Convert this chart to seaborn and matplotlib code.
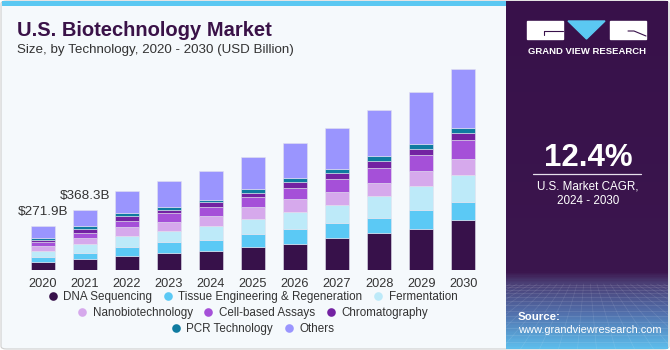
import numpy as np
import pandas as pd
import matplotlib
matplotlib.use("Agg")
import matplotlib.pyplot as plt
import seaborn as sns
from matplotlib.patches import FancyBboxPatch, Rectangle, Polygon
from matplotlib.lines import Line2D
from matplotlib.colors import LinearSegmentedColormap

# data (USD billion)
years = [2020, 2021, 2022, 2023, 2024, 2025, 2026, 2027, 2028, 2029, 2030]
segments = ["DNA Sequencing", "Tissue Engineering & Regeneration", "Fermentation",
            "Nanobiotechnology", "Cell-based Assays", "Chromatography",
            "PCR Technology", "Others"]
dna_sequencing = [49, 65, 85.7, 106, 118, 140.8, 161, 194, 224.6, 252.8, 304.2]
tissue_engineering = [28, 41, 57, 63, 67.3, 81.4, 90, 93.6, 95.5, 114.4, 114.4]
fermentation = [37, 51, 63, 71.6, 81.4, 90, 102, 108.3, 132.8, 146.9, 161]
nanobiotech = [33, 41, 55, 55, 63.6, 71.6, 79.6, 81.4, 81.4, 91.8, 102.2]
cell_based = [24.5, 30.6, 41, 50.8, 57, 64.9, 71, 81.4, 91.8, 97.9, 114.4]
chromatography = [14, 24.5, 28.8, 22.6, 26.3, 24.5, 33, 33, 39.2, 38.6, 42.8]
pcr = [10.5, 14, 20, 18.4, 16.5, 20.8, 24.5, 28.2, 30.6, 26.9, 28.8]
others = [75.9, 101.2, 134.6, 155, 177.5, 195.8, 217.9, 247.2, 283.4, 321.9, 362.9]
labeled_years = [2020, 2021]

colors = ["#37114A", "#5BC9F5", "#BDEAF9", "#D6A9EC", "#A550D8", "#7322A2",
          "#0F7BA0", "#9A95FE"]

series = [dna_sequencing, tissue_engineering, fermentation, nanobiotech,
          cell_based, chromatography, pcr, others]
df = pd.concat([pd.DataFrame({"year": years, "value": v, "segment": s})
                for s, v in zip(segments, series)], ignore_index=True)
totals = df.groupby("year")["value"].sum()

sns.set_style("white")
plt.rcParams["font.family"] = ["Liberation Sans", "DejaVu Sans"]

W, H = 670, 350
def fx(px):
    return px / W
def fy(py):
    return 1 - py / H

fig = plt.figure(figsize=(6.7, 3.5), dpi=100, facecolor="white")

# card background + top stripe (kept below the axes)
fig.patches.append(FancyBboxPatch((fx(1), fy(349)), fx(668), 348 / H,
                                  boxstyle="round,pad=0,rounding_size=0.008",
                                  transform=fig.transFigure, facecolor="#F5F9FC",
                                  edgecolor="#CFCFCF", lw=0.8, zorder=-3))
fig.patches.append(Rectangle((fx(2), fy(5.5)), fx(506 - 2), 4.5 / H,
                             transform=fig.transFigure, facecolor="#5BC8F2",
                             edgecolor="none", zorder=-2))

# bars
ax = fig.add_axes([fx(10), fy(270), fx(496 - 10), (270 - 60) / H])
ax.set_facecolor("none")
# stack order is reversed in histplot, so pass the hue order backwards
sns.histplot(data=df, x="year", weights="value", hue="segment",
             hue_order=segments[::-1], palette=colors[::-1], multiple="stack",
             discrete=True, shrink=0.58, alpha=1, edgecolor="#E2E2EE",
             linewidth=0.4, legend=False, ax=ax)
ax.set_xlim(2019.22, 2030.78)
ax.set_ylim(0, 1285)
ax.set_xticks(years)
ax.set_xticklabels([str(y) for y in years], fontsize=9.2, color="#333333")
ax.set_yticks([])
ax.tick_params(axis="x", length=0, pad=5.5)
ax.set_xlabel("")
ax.set_ylabel("")
for sp in ax.spines.values():
    sp.set_visible(False)

for y in labeled_years:
    ax.text(y, totals[y] + 48, f"${totals[y]:.1f}B", ha="center", va="bottom",
            fontsize=9.7, color="#333333")

# titles
fig.text(fx(17), fy(36), "U.S. Biotechnology Market", fontsize=14.5,
         fontweight="bold", color="#3A1248", va="baseline")
fig.text(fx(17), fy(52.5), "Size, by Technology, 2020 - 2030 (USD Billion)",
         fontsize=9.6, color="#333333", va="baseline")

# legend in three centred rows
handles = [Line2D([], [], marker="o", ls="none", markersize=6.2,
                  markerfacecolor=c, markeredgecolor="none") for c in colors]
rows = [(0, 3, 297), (3, 6, 313), (6, 8, 329)]
for a, b, ypix in rows:
    fig.legend(handles[a:b], segments[a:b], loc="center",
               bbox_to_anchor=(fx(253), fy(ypix)), ncol=b - a, frameon=False,
               fontsize=8.4, handlelength=0.7, handletextpad=0.55,
               columnspacing=1.0, labelcolor="#333333", borderpad=0)

# right panel with gradient
pax = fig.add_axes([fx(506), fy(349), fx(668 - 506), 348 / H])
pax.axis("off")
grad = LinearSegmentedColormap.from_list(
    "panel", [(0, "#38114A"), (0.78, "#3B164E"), (0.81, "#4A3C72"),
              (0.9, "#5270AC"), (1, "#5DBDEB")])
pax.imshow(np.linspace(0, 1, 348).reshape(-1, 1), cmap=grad, aspect="auto",
           extent=[0, 1, 0, 1], origin="upper")
# faint perspective grid at the bottom of the panel
horizon = 1 - 283 / 348
for k in range(1, 14):
    yy = horizon * (1 - (k / 14) ** 1.6)
    pax.plot([0, 1], [yy, yy], color="white", alpha=0.13, lw=0.5)
for xs in np.linspace(-1.2, 2.2, 30):
    pax.plot([0.5 + (xs - 0.5) * 0.35, xs], [horizon, 0], color="white",
             alpha=0.11, lw=0.5)
pax.set_xlim(0, 1)
pax.set_ylim(0, 1)

# logo
fig.patches.append(Rectangle((fx(527), fy(39)), fx(563 - 527), 18 / H,
                             transform=fig.transFigure, color="white", zorder=5))
fig.patches.append(Rectangle((fx(610), fy(39)), fx(646 - 610), 18 / H,
                             transform=fig.transFigure, color="white", zorder=5))
fig.patches.append(Polygon([(fx(568), fy(21)), (fx(605), fy(21)), (fx(586.5), fy(39))],
                           transform=fig.transFigure, color="#5BC8F2", zorder=5))
fig.lines.append(Line2D([fx(544), fx(563)], [fy(31), fy(31)],
                        transform=fig.transFigure, color="#38114A", lw=0.8, zorder=6))
fig.lines.append(Line2D([fx(544), fx(544)], [fy(31), fy(35)],
                        transform=fig.transFigure, color="#38114A", lw=0.8, zorder=6))
fig.lines.append(Line2D([fx(628), fx(634), fx(646)], [fy(31), fy(31), fy(36)],
                        transform=fig.transFigure, color="#38114A", lw=0.8, zorder=6))
fig.text(fx(586.5), fy(51), "GRAND VIEW RESEARCH", ha="center", va="center",
         fontsize=6.8, fontweight="bold", color="white")

# CAGR box
fig.text(fx(588), fy(166), "12.4%", ha="center", va="baseline", fontsize=22.5,
         fontweight="bold", color="white")
fig.lines.append(Line2D([fx(533), fx(641)], [fy(173.5), fy(173.5)],
                        transform=fig.transFigure, color="#E6E0EC", lw=0.9))
fig.text(fx(588), fy(190), "U.S. Market CAGR,", ha="center", va="baseline",
         fontsize=8.4, color="white")
fig.text(fx(588), fy(204), "2024 - 2030", ha="center", va="baseline",
         fontsize=8.4, color="white")

fig.text(fx(518), fy(320), "Source:", ha="left", va="baseline", fontsize=8.2,
         fontweight="bold", color="white")
fig.text(fx(518), fy(333), "www.grandviewresearch.com", ha="left", va="baseline",
         fontsize=7.9, color="white")

fig.savefig("out.png", dpi=100)
